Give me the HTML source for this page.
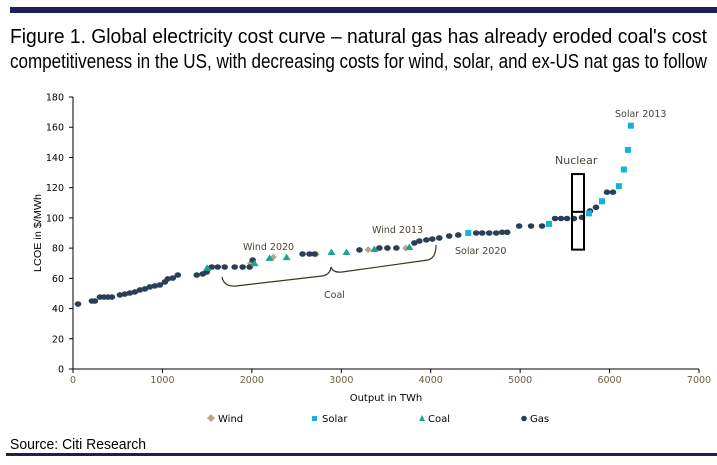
<!DOCTYPE html>
<html><head><meta charset="utf-8"><style>
html,body{margin:0;padding:0;background:#fff;}
svg{display:block;font-family:"Liberation Sans",Arial,sans-serif;}
</style></head><body>
<svg id="chart" width="717" height="465" viewBox="0 0 717 465" xmlns="http://www.w3.org/2000/svg">
<rect x="10" y="7" width="707" height="6" fill="#1c1f5a"/>
<text x="10" y="43" font-size="20" fill="#000" textLength="697" lengthAdjust="spacingAndGlyphs">Figure 1. Global electricity cost curve – natural gas has already eroded coal's cost</text>
<text x="10" y="68" font-size="20" fill="#000" textLength="697" lengthAdjust="spacingAndGlyphs">competitiveness in the US, with decreasing costs for wind, solar, and ex-US nat gas to follow</text>
<g id="axes"></g>
<g id="marks"></g>
<g id="annot" font-family="DejaVu Sans, sans-serif" font-size="9.5" fill="#4a4434">
<text x="243" y="250">Wind 2020</text>
<text x="372" y="233">Wind 2013</text>
<text x="455" y="254">Solar 2020</text>
<text x="615" y="117">Solar 2013</text>
<text x="555" y="164" font-size="11">Nuclear</text>
<text x="324" y="298">Coal</text>
<path d="M222,277 Q224,287 236,286 L322,276 Q330,275 331,267 Q333,273 342,272 L428,260 Q436,258 436,245" fill="none" stroke="#3d3520" stroke-width="1.2"/>
</g>
<g id="legend" font-family="DejaVu Sans, sans-serif" font-size="10" fill="#000">
<path d="M211,414 l4,4 l-4,4 l-4,-4z" fill="#b5a98a"/>
<text x="218" y="422">Wind</text>
<rect x="312" y="416" width="5" height="5" fill="#12b5d3"/>
<text x="322" y="422">Solar</text>
<path d="M422,415 l3,6 l-6,0z" fill="#1aa591"/>
<text x="428" y="422">Coal</text>
<circle cx="524" cy="418.5" r="2.8" fill="#2a3f57"/>
<text x="530" y="422">Gas</text>
</g>
<text x="10" y="449" font-size="15" fill="#000" textLength="136" lengthAdjust="spacingAndGlyphs">Source: Citi Research</text>
<rect x="6" y="453" width="711" height="3" fill="#1c1f5a"/>
</svg>
<script>
const xTicks=[0,1000,2000,3000,4000,5000,6000,7000];
const yTicks=[0,20,40,60,80,100,120,140,160,180];
const gasX=[56,212,245,301,346,391,435,525,580,636,692,748,804,859,915,971,1027,1060,1116,1172,1384,1451,1495,1551,1618,1696,1808,1897,1975,2009,2567,2645,2701,3203,3426,3515,3616,3817,3873,3951,4018,4096,4207,4308,4509,4576,4654,4732,4799,4855,4989,5122,5245,5390,5457,5524,5602,5692,5781,5848,5971,6038];
const gasY=[43,45,45,47.6,47.6,47.6,47.6,49,49.6,50.3,51,52.3,53,54.3,55,55.6,57.6,59.6,60.2,62.2,62.2,62.9,64.2,67.5,67.5,67.5,67.5,67.5,67.5,72.1,76.1,76.1,76.1,78.8,80.1,80.1,80.1,83.4,84.7,85.4,86,86.7,88,88.7,90,90,90,90,90.5,90.5,94.6,94.6,94.6,99.6,99.6,99.6,99.6,100.3,104.6,107,117,117];
const coalX=[1500,2030,2198,2388,2890,3058,3370,3761];
const coalY=[67,70,73.5,74,77.4,77.4,79.4,80.7];
const windX=[1985,2240,2720,3300,3520,3720];
const windY=[70,74,76,79,80,80];
const solarX=[4420,5323,5770,5915,6104,6160,6205,6238];
const solarY=[90,96,103,111,121,132,145,161];
const nuclearX=[5580,5714];
const nuclearY=[79,104,129];

const NS="http://www.w3.org/2000/svg";
const X0=73,X1=699,Y0=369,Y1=97;
function sx(v){return X0+(v-0)/(7000)*(X1-X0);}
function sy(v){return Y0-(v-0)/(180)*(Y0-Y1);}
function mk(tag,attrs,parent){const e=document.createElementNS(NS,tag);for(const k in attrs)e.setAttribute(k,attrs[k]);parent.appendChild(e);return e;}
const axes=document.getElementById('axes'),marks=document.getElementById('marks');
let a=mk('line',{x1:X0,y1:Y0,x2:X1,y2:Y0,stroke:'#000','stroke-width':1},axes);


a=mk('line',{x1:X0,y1:Y0,x2:X0,y2:Y1,stroke:'#000','stroke-width':1},axes);


xTicks.forEach(t=>{
 mk('line',{x1:sx(t),y1:Y0,x2:sx(t),y2:Y0+4,stroke:'#000'},axes);
 const tx=mk('text',{x:sx(t),y:Y0+14,'text-anchor':'middle','font-size':9.5,'font-family':'DejaVu Sans, sans-serif',fill:'#6b6147'},axes);
 tx.textContent=t;
 
 
});
yTicks.forEach(t=>{
 mk('line',{x1:X0-4,y1:sy(t),x2:X0,y2:sy(t),stroke:'#000'},axes);
 const tx=mk('text',{x:X0-9,y:sy(t)+3.5,'text-anchor':'end','font-size':9.5,'font-family':'DejaVu Sans, sans-serif',fill:'#000'},axes);
 tx.textContent=t;
 
 
});
let tt=mk('text',{x:(X0+X1)/2,y:401,'text-anchor':'middle','font-size':10,'font-family':'DejaVu Sans, sans-serif',fill:'#000'},axes);
tt.textContent='Output in TWh';


tt=mk('text',{x:0,y:0,'text-anchor':'middle','font-size':10,fill:'#000',transform:'translate(41,233) rotate(-90)',textLength:78,lengthAdjust:'spacingAndGlyphs'},axes);
tt.textContent='LCOE in $/MWh';



windX.forEach((v,i)=>{
 const p=mk('path',{d:`M${sx(v)},${sy(windY[i])-3.5} l3.5,3.5 l-3.5,3.5 l-3.5,-3.5z`,fill:'#b5a98a'},marks);
 
 
});
gasX.forEach((v,i)=>{
 const c=mk('ellipse',{cx:sx(v),cy:sy(gasY[i]),rx:3.3,ry:2.8,fill:'#2a3f57'},marks);
 
 
});
coalX.forEach((v,i)=>{
 const x=sx(v),y=sy(coalY[i]);
 const p=mk('path',{d:`M${x},${y-3.5} L${x+4},${y+3} L${x-4},${y+3}z`,fill:'#1aa591'},marks);
 
 
});
solarX.forEach((v,i)=>{
 const r=mk('rect',{x:sx(v)-3,y:sy(solarY[i])-3,width:6,height:6,fill:'#12b5d3'},marks);
 
 
});
const nb=mk('rect',{x:sx(nuclearX[0]),y:sy(nuclearY[2]),width:sx(nuclearX[1])-sx(nuclearX[0]),height:sy(nuclearY[0])-sy(nuclearY[2]),fill:'none',stroke:'#000','stroke-width':2},marks);


const nl=mk('line',{x1:sx(nuclearX[0]),x2:sx(nuclearX[1]),y1:sy(nuclearY[1]),y2:sy(nuclearY[1]),stroke:'#000','stroke-width':2},marks);


</script>
</body></html>
